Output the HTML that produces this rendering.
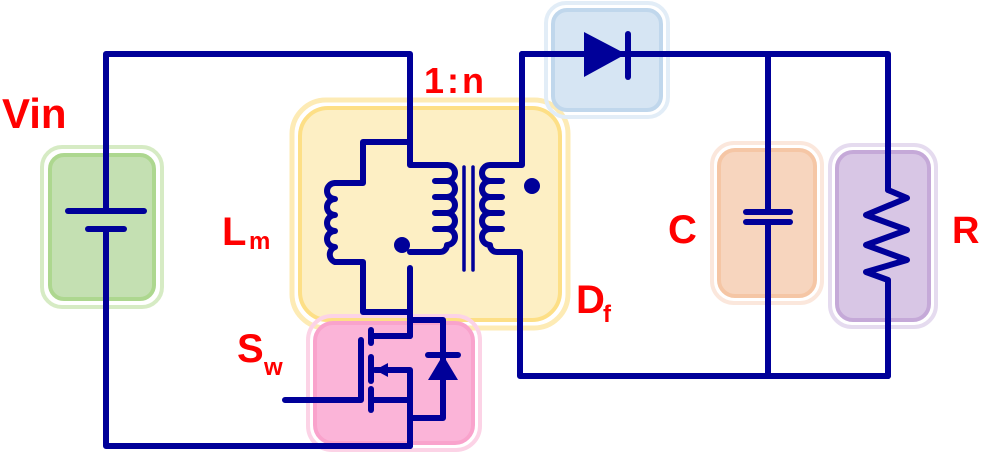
<!DOCTYPE html>
<html><head><style>
html,body{margin:0;padding:0;background:#fff;}
svg{display:block;}
text{font-family:"Liberation Sans",sans-serif;font-weight:bold;fill:#ff0000;}
</style></head><body>
<svg width="984" height="454" viewBox="0 0 984 454" xmlns="http://www.w3.org/2000/svg">
<g>
<rect x="42" y="147" width="120" height="160" rx="20" fill="none" stroke="#d6ebc4" stroke-width="4"/>
<rect x="50" y="155" width="104" height="144" rx="14" fill="#c4e0b2" stroke="#add78f" stroke-width="4"/>
<rect x="292" y="100" width="276" height="228" rx="34" fill="none" stroke="#fdebb5" stroke-width="5"/>
<rect x="300" y="108" width="260" height="212" rx="28" fill="#fdefc4" stroke="#fddf86" stroke-width="4"/>
<rect x="308" y="316" width="172" height="134" rx="24" fill="none" stroke="#fcd3e6" stroke-width="4"/>
<rect x="315" y="323" width="158" height="120" rx="18" fill="#fbb4d8" stroke="#f9a3cc" stroke-width="4"/>
<rect x="546" y="3" width="122" height="114" rx="20" fill="none" stroke="#e2edf7" stroke-width="4"/>
<rect x="553" y="10" width="108" height="100" rx="14" fill="#d6e5f3" stroke="#c0d7ec" stroke-width="4"/>
<rect x="712" y="143" width="110" height="160" rx="22" fill="none" stroke="#fbe7dc" stroke-width="4"/>
<rect x="719" y="150" width="96" height="146" rx="16" fill="#f7d5be" stroke="#f5c6a5" stroke-width="4"/>
<rect x="830" y="145" width="106" height="182" rx="22" fill="none" stroke="#e5dbef" stroke-width="4"/>
<rect x="837" y="152" width="92" height="168" rx="16" fill="#d8c6e5" stroke="#c5a9d8" stroke-width="4"/>
</g>
<g fill="none" stroke="#000099" stroke-width="6" stroke-linecap="round" stroke-linejoin="round">
<polyline points="106,211 106,54 410,54 410,165 447,165"/>
<line x1="68" y1="211" x2="144" y2="211"/>
<line x1="88" y1="229" x2="124" y2="229"/>
<polyline points="106,229 106,446 410,446"/>
<path d="M447,165 a8,8 0 0 1 0,16 h-12 h12 a8,8 0 0 1 0,16 h-12 h12 a8,8 0 0 1 0,16 h-12 h12 a8,8 0 0 1 0,16 h-12 h12 a8,8 0 0 1 0,16 a7,7 0 0 1 -7,7 h-30"/>
<line x1="464" y1="167" x2="464" y2="270" stroke-width="3.5"/>
<line x1="473" y1="167" x2="473" y2="270" stroke-width="3.5"/>
<path d="M522,54 V165 H490 a8,8 0 0 0 0,16 h12 h-12 a8,8 0 0 0 0,16 h12 h-12 a8,8 0 0 0 0,16 h12 h-12 a8,8 0 0 0 0,16 h12 h-12 a8,8 0 0 0 0,16 a7,7 0 0 0 7,7 h23 V376 H888"/>
<polyline points="410,142 363,142 363,183 335,183"/>
<path d="M335,183 a8,8 0 0 0 0,16 a8,8 0 0 0 0,16 a8,8 0 0 0 0,16 a8,8 0 0 0 0,16 a8,8 0 0 0 0,15 h28 V312 H410"/>
<line x1="410" y1="268" x2="410" y2="336"/>
<polyline points="410,320 443,320 443,418 410,418"/>
<polyline points="410,336 371,336"/>
<line x1="371" y1="330" x2="371" y2="343"/>
<line x1="371" y1="357" x2="371" y2="381"/>
<line x1="371" y1="389" x2="371" y2="410"/>
<polyline points="361,340 361,400 285,400"/>
<polyline points="371,400 410,400"/>
<polyline points="410,446 410,370 375,370"/>
<line x1="428" y1="355" x2="458" y2="355"/>
<polyline points="522,54 888,54 888,190"/>
<line x1="628" y1="34" x2="628" y2="77"/>
<line x1="768" y1="54" x2="768" y2="212"/>
<line x1="768" y1="222" x2="768" y2="376"/>
<line x1="746" y1="212" x2="790" y2="212"/>
<line x1="746" y1="222" x2="790" y2="222"/>
<polyline points="888,190 907,198 866,215 907,230 866,245 907,260 866,272 888,280 888,376"/>
</g>
<g fill="#000099">
<polygon points="584,32 626,54 584,77"/>
<polygon points="443,355 458,380 428,380"/>
<polygon points="375,370 388,363 388,377"/>
<circle cx="532" cy="186" r="8"/>
<circle cx="402" cy="245" r="8"/>
</g>
<text x="2" y="128" font-size="42">Vin</text>
<text x="424" y="93" font-size="36" letter-spacing="3">1:n</text>
<text x="222" y="245" font-size="40">L</text>
<text x="249" y="249" font-size="24">m</text>
<text x="576" y="313" font-size="40">D</text>
<text x="603" y="322" font-size="24">f</text>
<text x="237" y="362" font-size="40">S</text>
<text x="264" y="375" font-size="24">w</text>
<text x="668" y="243" font-size="40">C</text>
<text x="952" y="243" font-size="38">R</text>
</svg>
</body></html>
